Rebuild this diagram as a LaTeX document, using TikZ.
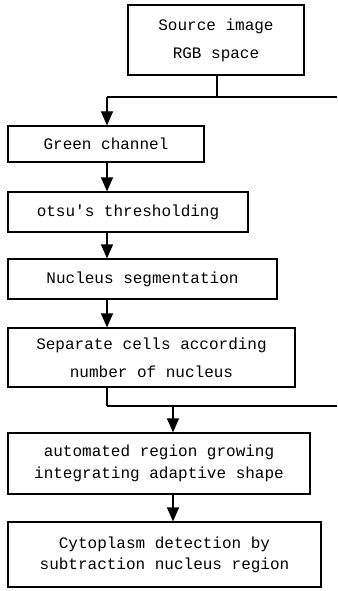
\documentclass[tikz,border=0pt]{standalone}
\usepackage{fontspec}
\newfontfamily\boxmono{Liberation Mono}
\usetikzlibrary{arrows.meta}
\tikzset{
  box/.style={draw=black, line width=1.2pt, fill=white, rectangle, inner sep=0pt, align=center,
    font=\boxmono\fontsize{16}{28}\selectfont},
  arr/.style={draw=black, line width=1.2pt, -{Triangle[width=12pt,length=14pt]}},
  ln/.style={draw=black, line width=1.2pt}
}
\begin{document}
\begin{tikzpicture}[x=1pt,y=-1pt]
\useasboundingbox (0,0) rectangle (337,591);
\node[box, minimum width=176pt, minimum height=70pt] (b1) at (216,40) {Source image\\RGB space};
\node[box, minimum width=196pt, minimum height=36pt] (b2) at (106,144) {Green channel};
\node[box, minimum width=240pt, minimum height=40pt] (b3) at (128,212) {otsu's thresholding};
\node[box, minimum width=269pt, minimum height=40pt] (b4) at (142.5,279) {Nucleus segmentation};
\node[box, minimum width=287pt, minimum height=59pt] (b5) at (151.5,357.5) {Separate cells according\\number of nucleus};
\node[box, minimum width=302pt, minimum height=61pt, font=\boxmono\fontsize{16}{22}\selectfont] (b6) at (159,463.5) {automated region growing\\integrating adaptive shape};
\node[box, minimum width=313pt, minimum height=65pt, font=\boxmono\fontsize{16}{21}\selectfont] (b7) at (164.5,554.5) {Cytoplasm detection by\\subtraction nucleus region};
\coordinate (j1l) at (107,97);
\coordinate (j1r) at (337,97);
\coordinate (ax) at (107,0);
\coordinate (j2l) at (107,406);
\coordinate (j2r) at (337,406);
\coordinate (bx) at (173,406);
\draw[ln] (b1.south -| 217,0) -- (217,97);
\draw[ln] (j1l) -- (j1r);
\draw[arr] (j1l) -- (j1l |- b2.north);
\draw[arr] (b2.south -| ax) -- (b3.north -| ax);
\draw[arr] (b3.south -| ax) -- (b4.north -| ax);
\draw[arr] (b4.south -| ax) -- (b5.north -| ax);
\draw[ln] (b5.south -| ax) -- (j2l);
\draw[ln] (j2l) -- (j2r);
\draw[arr] (bx) -- (bx |- b6.north);
\draw[arr] (b6.south -| bx) -- (b7.north -| bx);
\end{tikzpicture}
\end{document}
